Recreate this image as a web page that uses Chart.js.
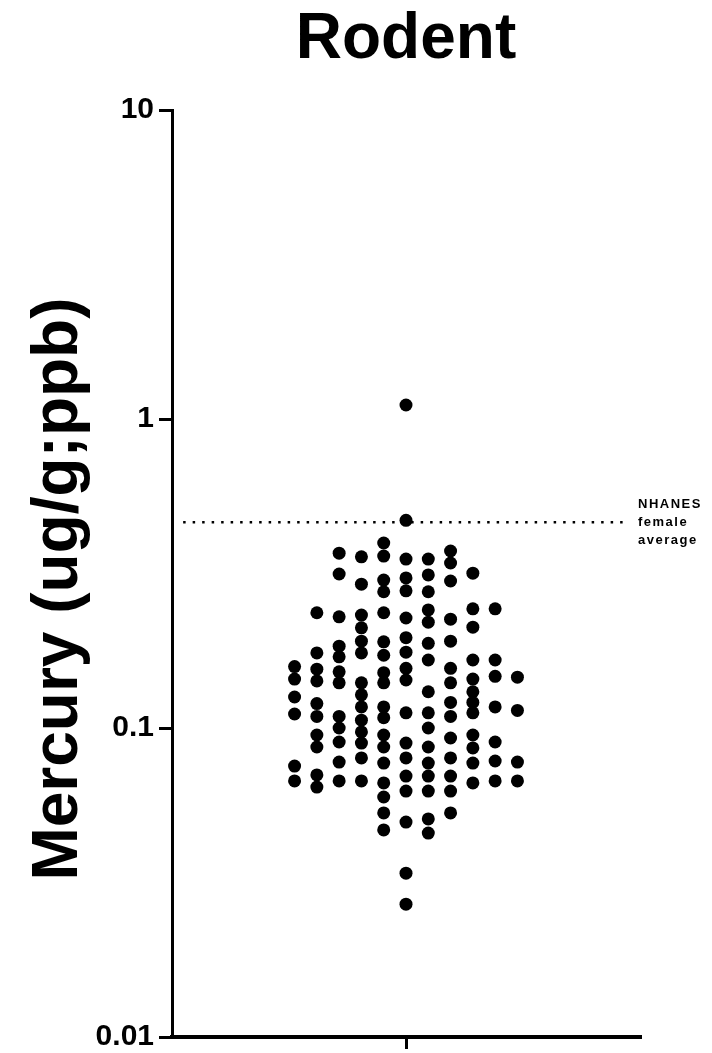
<!DOCTYPE html>
<html lang="en">
<head>
    <meta charset="UTF-8">
    <title>Rodent</title>
    <script src="https://cdn.jsdelivr.net/npm/chart.js"></script>
    <style>
        body {
            margin: 0;
            padding: 0;
            background-color: white;
        }
        canvas {
            display: block;
        }
    </style>
</head>
<body>

<canvas id="grafico" width="712" height="1053"></canvas>

<script>
    // Datos (una columna del enjambre por arreglo)
    const colOffsets = [-5, -4, -3, -2, -1, 0, 1, 2, 3, 4, 5];
    const colM5 = [0.158, 0.144, 0.126, 0.111, 0.0753, 0.0674];
    const colM4 = [0.236, 0.175, 0.155, 0.142, 0.120, 0.109, 0.0949, 0.0868, 0.0705, 0.0644];
    const colM3 = [0.368, 0.315, 0.229, 0.184, 0.170, 0.152, 0.140, 0.109, 0.100, 0.0901, 0.0776, 0.0674];
    const colM2 = [0.358, 0.292, 0.232, 0.211, 0.191, 0.175, 0.140, 0.128, 0.117, 0.106, 0.0971, 0.0894, 0.0800, 0.0674];
    const colM1 = [0.397, 0.360, 0.301, 0.276, 0.236, 0.190, 0.172, 0.151, 0.140, 0.117, 0.108, 0.0949, 0.0868, 0.0770, 0.0664, 0.0598, 0.0531, 0.0468];
    const col0  = [1.11, 0.470, 0.352, 0.306, 0.278, 0.227, 0.196, 0.176, 0.156, 0.143, 0.112, 0.0894, 0.0800, 0.0699, 0.0625, 0.0496, 0.0339, 0.0269];
    const colP1 = [0.352, 0.313, 0.276, 0.241, 0.220, 0.188, 0.166, 0.131, 0.112, 0.100, 0.0868, 0.0770, 0.0699, 0.0625, 0.0508, 0.0457];
    const colP2 = [0.374, 0.342, 0.299, 0.225, 0.191, 0.156, 0.140, 0.121, 0.109, 0.0928, 0.0800, 0.0699, 0.0625, 0.0531];
    const colP3 = [0.317, 0.243, 0.212, 0.166, 0.144, 0.131, 0.121, 0.112, 0.0949, 0.0862, 0.0770, 0.0664];
    const colP4 = [0.243, 0.166, 0.147, 0.117, 0.0901, 0.0782, 0.0674];
    const colP5 = [0.146, 0.114, 0.0776, 0.0674];
    const columnas = [colM5, colM4, colM3, colM2, colM1, col0, colP1, colP2, colP3, colP4, colP5];

    const yTicks = [0.01, 0.1, 1, 10];
    const yTickLabels = ['0.01', '0.1', '1', '10'];
    const nhanes = 0.463;
    const nhanesLabel = ['NHANES', 'female', 'average'];

    const fuente = "'Liberation Sans', Arial, sans-serif";

    // construir puntos del enjambre
    let puntos = [];
    columnas.forEach((col, i) => {
        col.forEach(v => puntos.push({ x: colOffsets[i], y: v }));
    });

    // plugin para titulo del eje y y etiqueta NHANES
    const textos = {
        id: 'textos',
        afterDraw(chart) {
            const ctx = chart.ctx;
            const area = chart.chartArea;
            const yScale = chart.scales.y;
            ctx.save();
            ctx.fillStyle = 'black';

            // titulo del eje Y
            ctx.font = 'bold 64px ' + fuente;
            ctx.textAlign = 'center';
            ctx.textBaseline = 'alphabetic';
            ctx.translate(77, 589);
            ctx.rotate(-Math.PI / 2);
            ctx.fillText('Mercury (ug/g;ppb)', 0, 0);
            ctx.restore();

            // etiqueta de la linea NHANES
            ctx.save();
            ctx.fillStyle = 'black';
            ctx.font = 'bold 13px ' + fuente;
            ctx.letterSpacing = '1.5px';
            ctx.textAlign = 'left';
            ctx.textBaseline = 'middle';
            const yLinea = yScale.getPixelForValue(nhanes);
            nhanesLabel.forEach((t, i) => {
                ctx.fillText(t, area.right - 2, yLinea + (i - 1) * 18);
            });
            ctx.restore();
        }
    };

    new Chart(document.getElementById('grafico').getContext('2d'), {
        type: 'scatter',
        data: {
            datasets: [{
                label: 'Rodent',
                data: puntos,
                backgroundColor: 'black',
                borderWidth: 0,
                pointRadius: 6.5,
                pointHoverRadius: 6.5
            }, {
                type: 'line',
                label: 'NHANES female average',
                data: [{ x: -10, y: nhanes }, { x: 10, y: nhanes }],
                borderColor: 'black',
                borderWidth: 2.5,
                borderDash: [2.5, 7],
                pointRadius: 0,
                fill: false
            }]
        },
        options: {
            responsive: false,
            animation: false,
            layout: {
                padding: { left: 0, right: 72, top: 0, bottom: 0 }
            },
            plugins: {
                legend: { display: false },
                tooltip: { enabled: false },
                title: {
                    display: true,
                    text: 'Rodent',
                    color: 'black',
                    fullSize: false,
                    font: { family: fuente, size: 64, weight: 'bold', lineHeight: 1 },
                    padding: { top: 8, bottom: 38 }
                }
            },
            scales: {
                x: {
                    type: 'linear',
                    min: -10.5,
                    max: 10.5,
                    afterBuildTicks: (scale) => { scale.ticks = [{ value: 0 }]; },
                    afterFit: (scale) => { scale.height = 16; },
                    ticks: { callback: () => '', padding: 0 },
                    grid: {
                        drawOnChartArea: false,
                        drawTicks: true,
                        tickLength: 12,
                        lineWidth: 3,
                        color: 'black'
                    },
                    border: { display: true, color: 'black', width: 4 }
                },
                y: {
                    type: 'logarithmic',
                    min: 0.01,
                    max: 10,
                    afterBuildTicks: (scale) => { scale.ticks = yTicks.map(v => ({ value: v })); },
                    afterFit: (scale) => {
                        scale.width = 172;
                        scale.paddingTop = 0;
                        scale.paddingBottom = 0;
                    },
                    ticks: {
                        color: 'black',
                        padding: 5,
                        font: { family: fuente, size: 30, weight: 'bold' },
                        callback: (v, i) => yTickLabels[i]
                    },
                    grid: {
                        drawOnChartArea: false,
                        drawTicks: true,
                        tickLength: 13,
                        lineWidth: 3,
                        color: 'black'
                    },
                    border: { display: true, color: 'black', width: 3 }
                }
            }
        },
        plugins: [textos]
    });
</script>

</body>
</html>
